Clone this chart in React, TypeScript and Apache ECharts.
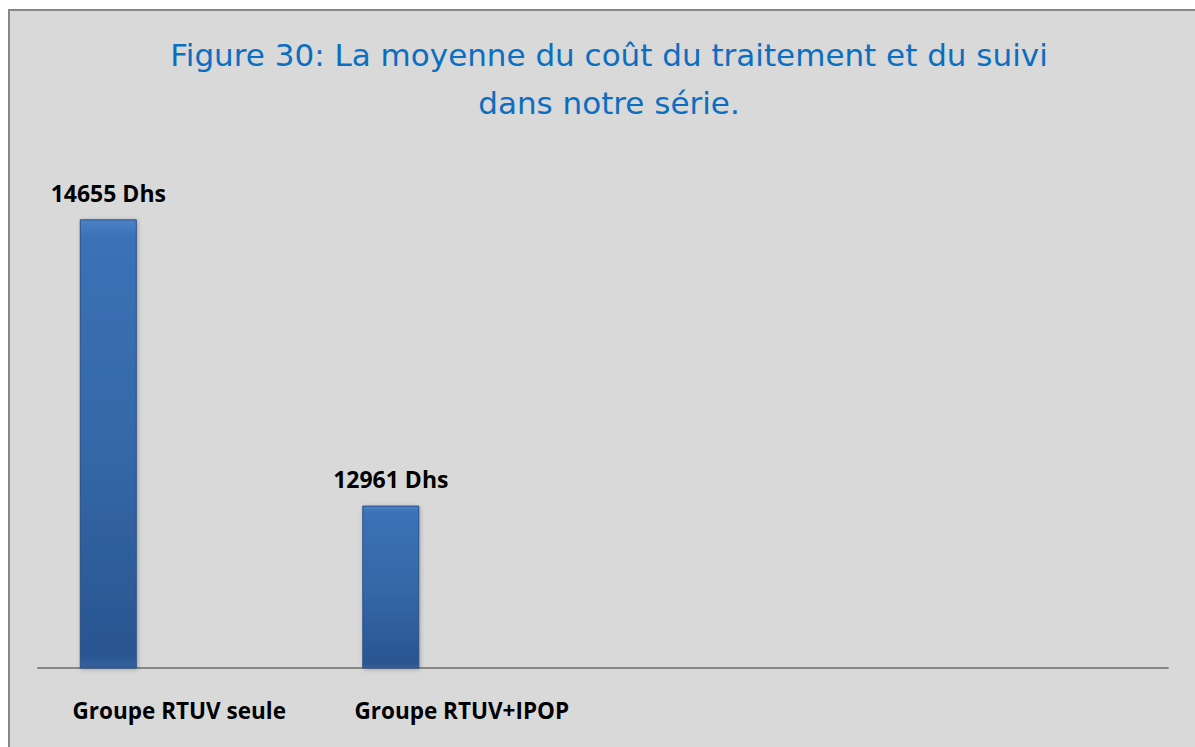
import React, { useEffect, useRef } from "react";
import * as echarts from "echarts";

const categories = ["Groupe RTUV seule", "Groupe RTUV+IPOP", "", ""];
const costValues = [14655, 12961, null, null];
const emptySeries = [null, null, null, null];
const titleLines = ["Figure 30: La moyenne du coût du traitement et du suivi", "dans notre série."];
const valueSuffix = " Dhs";

export default function App() {
  const ref = useRef<HTMLDivElement>(null);
  useEffect(() => {
    document.body.style.overflow = "hidden";
    const chart = echarts.init(ref.current!, null, { renderer: "svg" });
    chart.setOption({
      animation: false,
      backgroundColor: "#ffffff",
      graphic: [
        {
          type: "rect",
          z: -10,
          silent: true,
          shape: { x: 9, y: 10, width: 1300, height: 900 },
          style: { fill: "#d9d9d9", stroke: "#888888", lineWidth: 2 },
        },
      ],
      title: {
        text: titleLines.join("\n"),
        left: 604,
        top: 26,
        textAlign: "center",
        textStyle: {
          color: "#0b6ec0",
          fontFamily: "DejaVu Sans",
          fontWeight: "normal",
          fontSize: 31,
          lineHeight: 48,
        },
      },
      grid: { left: 38, right: 27, top: 161, bottom: 79 },
      xAxis: {
        type: "category",
        data: categories,
        axisLine: { lineStyle: { color: "#888888", width: 2 } },
        axisTick: { show: false },
        axisLabel: {
          color: "#000",
          fontFamily: "Open Sans",
          fontWeight: "bold",
          fontSize: 22.5,
          margin: 31,
        },
      },
      yAxis: {
        type: "value",
        min: 12000,
        max: 15000,
        show: false,
        splitLine: { show: false },
      },
      series: [
        {
          type: "bar",
          data: costValues,
          barWidth: 57,
          barGap: "149%",
          itemStyle: {
            color: new echarts.graphic.LinearGradient(0, 0, 0, 1, [
              { offset: 0, color: "#4a82c6" },
              { offset: 0.04, color: "#3a72b6" },
              { offset: 0.5, color: "#3468a8" },
              { offset: 0.97, color: "#2a5590" },
              { offset: 1, color: "#33629e" },
            ]),
            borderColor: "#2a5088",
            borderWidth: 1,
            shadowColor: "rgba(0,0,0,0.25)",
            shadowBlur: 4,
            shadowOffsetX: 1,
            shadowOffsetY: 1,
          },
          label: {
            show: true,
            position: "top",
            distance: 15,
            color: "#000",
            fontFamily: "Open Sans",
            fontWeight: "bold",
            fontSize: 23,
            formatter: (p: any) => `${p.value}${valueSuffix}`,
          },
        },
        {
          type: "bar",
          data: emptySeries,
          barWidth: 57,
        },
      ],
    });
    return () => chart.dispose();
  }, []);
  return (
    <div
      ref={ref}
      style={{ position: "fixed", left: 0, top: 0, width: 1195, height: 747 }}
    />
  );
}
